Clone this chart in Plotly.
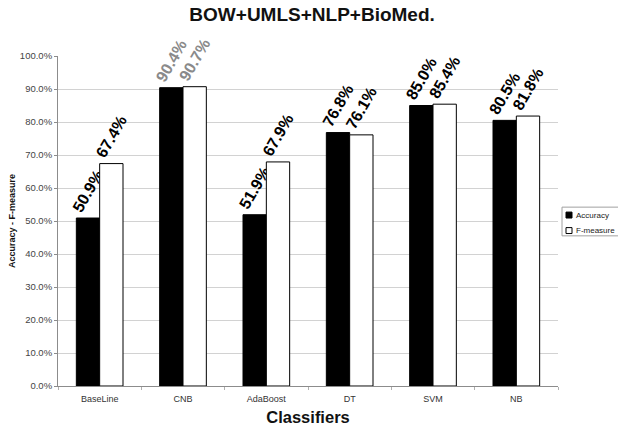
import plotly.graph_objects as go

# Classifier results (percent)
classifiers = ["BaseLine", "CNB", "AdaBoost", "DT", "SVM", "NB"]
accuracy = [50.9, 90.4, 51.9, 76.8, 85.0, 80.5]
f_measure = [67.4, 90.7, 67.9, 76.1, 85.4, 81.8]
y_ticks = [0, 10, 20, 30, 40, 50, 60, 70, 80, 90, 100]
y_tick_text = [f"{v:.1f}%" for v in y_ticks]
series_names = ["Accuracy", "F-measure"]
series_fill = ["#000000", "#ffffff"]

# CNB value labels are drawn in grey, the rest in black
label_colors = ["#8a8a8a" if c == "CNB" else "#000000" for c in classifiers]

FONT = "Liberation Sans, Arial, sans-serif"

fig = go.Figure()
for name, values, fill in zip(series_names, [accuracy, f_measure], series_fill):
    fig.add_trace(go.Bar(
        x=classifiers, y=values, name=name,
        marker=dict(color=fill, line=dict(color="#000000", width=1)),
        texttemplate="<b>%{y:.1f}%</b>", textposition="outside", textangle=-60,
        constraintext="none",
        textfont=dict(family=FONT, size=16, color=label_colors),
        cliponaxis=False,
    ))

# Hand-drawn legend box to the right of the plot area
legend_shapes = [
    dict(type="rect", xref="paper", yref="paper", x0=1.008, x1=1.2, y0=0.455, y1=0.542,
         line=dict(color="#a0a0a0", width=1), fillcolor="white", layer="above"),
]
legend_annotations = []
for i, (name, fill) in enumerate(zip(series_names, series_fill)):
    yc = 0.518 - i * 0.047
    legend_shapes.append(dict(
        type="rect", xref="paper", yref="paper",
        x0=1.016, x1=1.028, y0=yc - 0.009, y1=yc + 0.009,
        line=dict(color="#000000", width=1), fillcolor=fill, layer="above",
    ))
    legend_annotations.append(dict(
        text=name, xref="paper", yref="paper", x=1.031, y=yc,
        xanchor="left", yanchor="middle", showarrow=False,
        font=dict(family=FONT, size=8, color="#222222"),
    ))

fig.update_layout(
    width=618, height=436,
    margin=dict(l=58, r=60, t=56, b=50, autoexpand=False),
    paper_bgcolor="white", plot_bgcolor="white",
    barmode="group", bargap=0.44, bargroupgap=0,
    font=dict(family=FONT, color="#333333"),
    title=dict(
        text="<b>BOW+UMLS+NLP+BioMed.</b>",
        x=0.505, xanchor="center", y=0.968, yanchor="middle",
        font=dict(family=FONT, size=19, color="#111111"),
    ),
    showlegend=False,
    shapes=legend_shapes,
    annotations=legend_annotations,
)

fig.update_xaxes(
    title=dict(text="<b>Classifiers</b>", font=dict(family=FONT, size=16.5, color="#111111"),
               standoff=8),
    tickfont=dict(family=FONT, size=9, color="#333333"),
    ticklabelstandoff=4,
    showline=True, linecolor="#8c8c8c", linewidth=1,
    ticks="outside", tickson="boundaries", ticklen=3, tickcolor="#b0b0b0",
    showgrid=False, automargin=False,
)
fig.update_yaxes(
    title=dict(text="<b>Accuracy - F-measure</b>", font=dict(family=FONT, size=9, color="#111111"),
               standoff=2),
    range=[0, 100], tickvals=y_ticks, ticktext=y_tick_text,
    tickfont=dict(family=FONT, size=9.5, color="#444444"),
    showline=True, linecolor="#8c8c8c", linewidth=1,
    ticks="outside", ticklen=3, tickcolor="#8c8c8c",
    showgrid=True, gridcolor="#d2d2d2", gridwidth=1,
    zeroline=False, automargin=False,
)

fig.write_html("out.html")
